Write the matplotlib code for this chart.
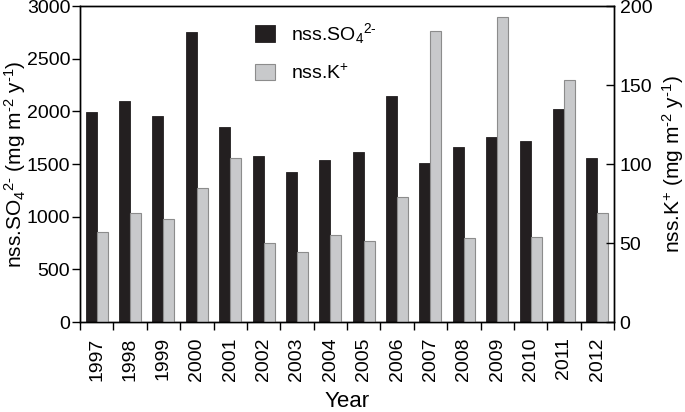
import numpy as np
import matplotlib
matplotlib.use("Agg")
import matplotlib.pyplot as plt

# --- DATA ---
years = ["1997", "1998", "1999", "2000", "2001", "2002", "2003", "2004",
         "2005", "2006", "2007", "2008", "2009", "2010", "2011", "2012"]
so4 = [1990, 2100, 1960, 2750, 1850, 1580, 1420, 1540,
       1610, 2150, 1510, 1660, 1760, 1720, 2020, 1560]
k_plus = [57, 69, 65, 85, 104, 50, 44.5, 55,
          51, 79, 184, 53, 193, 54, 153, 69]

plt.rcParams['font.family'] = ['Liberation Sans', 'DejaVu Sans']
plt.rcParams['mathtext.fontset'] = 'custom'
plt.rcParams['mathtext.rm'] = 'Liberation Sans'
plt.rcParams['mathtext.it'] = 'Liberation Sans'
plt.rcParams['mathtext.default'] = 'regular'

fig = plt.figure(figsize=(6.85, 4.12), dpi=100)
ax = fig.add_axes([0.1168, 0.2184, 0.7796, 0.767])
ax2 = ax.twinx()

x = np.arange(len(years))
w = 0.33
so4_lbl = r'nss.SO$_4$$^{2\text{-}}$'
k_lbl = r'nss.K$^{+}$'
b1 = ax.bar(x - w / 2, so4, w, color='#231f20', edgecolor='#231f20', linewidth=0.6)
b2 = ax2.bar(x + w / 2, k_plus, w, color='#c8c9cb', edgecolor='#8c8c8c', linewidth=0.8)

ax.set_xlim(-0.5, len(years) - 0.5)
ax.set_ylim(0, 3000)
ax2.set_ylim(0, 200)
ax.set_yticks(np.arange(0, 3001, 500))
ax2.set_yticks(np.arange(0, 201, 50))

# year labels at centres, tick marks at the boundaries
ax.set_xticks(x)
ax.set_xticklabels(years, rotation=90)
ax.set_xticks(np.arange(-0.5, len(years)), minor=True)
ax.tick_params(axis='x', which='major', length=0, pad=11, labelsize=14)
ax.tick_params(axis='x', which='minor', length=6, width=1, direction='out')
ax.tick_params(axis='y', length=6, width=1, direction='out', pad=1, labelsize=14)
ax2.tick_params(axis='y', length=6, width=1, direction='in', pad=4, labelsize=14)

for a in (ax, ax2):
    for s in a.spines.values():
        s.set_linewidth(1.0)

ax.set_ylabel(so4_lbl + r' (mg m$^{\text{-}2}$ y$^{\text{-}1}$)', fontsize=15)
ax.yaxis.set_label_coords(-0.097, 0.5)
ax2.set_ylabel(k_lbl + r' (mg m$^{\text{-}2}$ y$^{\text{-}1}$)', fontsize=15, labelpad=6)
ax.set_xlabel('Year', fontsize=16, labelpad=7)

ax.legend([b1, b2], [so4_lbl, k_lbl], loc='upper left',
          bbox_to_anchor=(0.294, 1.008), frameon=False, fontsize=14,
          handlelength=1.05, handleheight=0.95, handletextpad=0.85,
          labelspacing=0.9)

fig.savefig('out.png', dpi=100)
